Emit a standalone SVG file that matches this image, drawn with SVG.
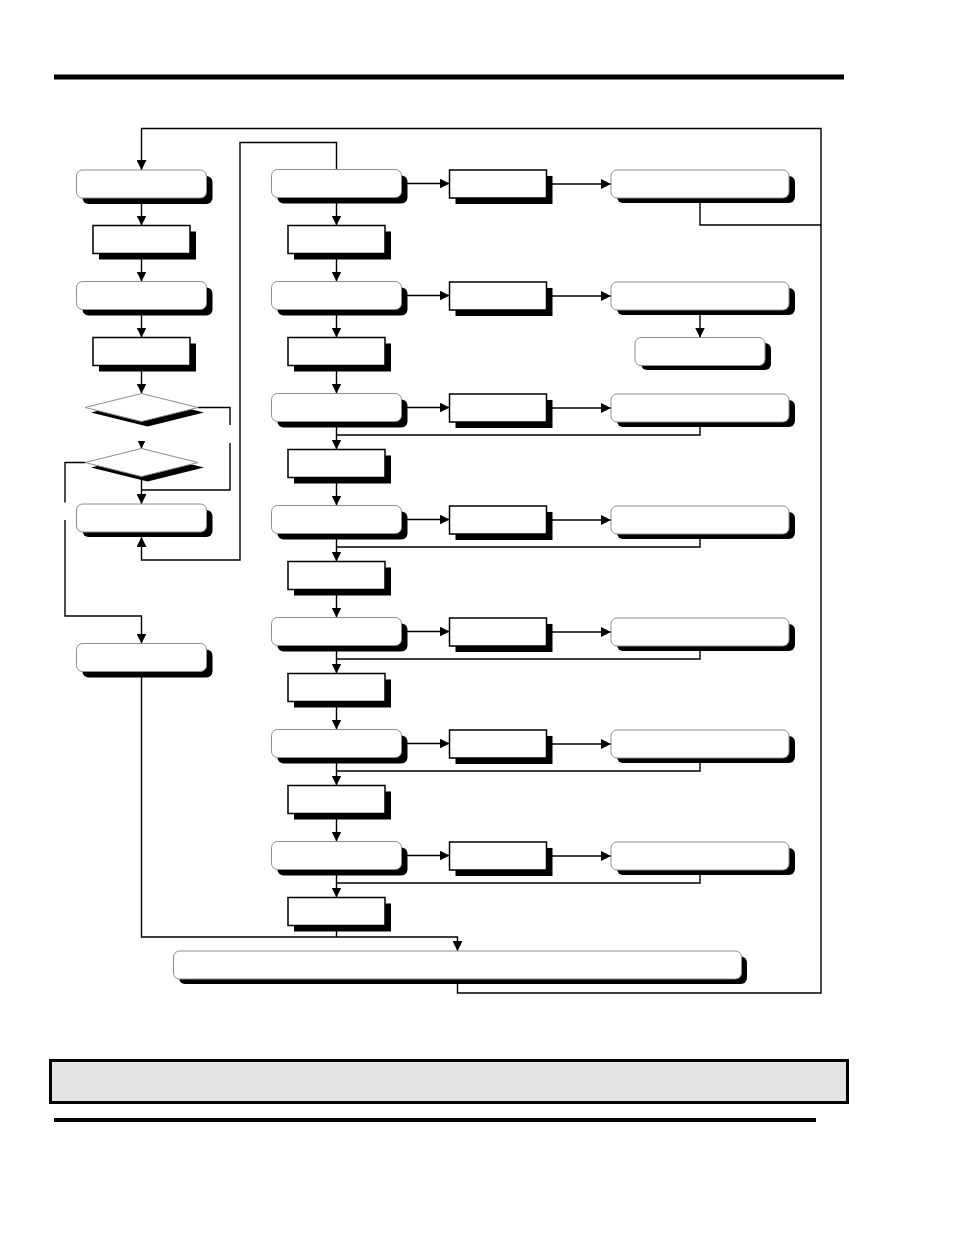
<svg xmlns="http://www.w3.org/2000/svg" width="954" height="1235" viewBox="0 0 954 1235">
<style>
.bg{fill:#fff}
.sh{fill:#000}
.rb{fill:#fff;stroke:#8c8c8c;stroke-width:1}
.rc{fill:#fff;stroke:#000;stroke-width:1.5}
.dm{fill:#fff;stroke:#8c8c8c;stroke-width:1}
.cn{fill:none;stroke:#000;stroke-width:1.4}
.bar{fill:#000}
.note{fill:#e4e4e4;stroke:#000;stroke-width:3}
</style>
<defs>
<marker id="ah" markerUnits="userSpaceOnUse" markerWidth="10" markerHeight="10" refX="10" refY="5" orient="auto">
<path d="M0,0 L10,5 L0,10 z" fill="#000"/>
</marker>
<marker id="ahs" markerUnits="userSpaceOnUse" markerWidth="8" markerHeight="8" refX="8" refY="4" orient="auto">
<path d="M0,0 L8,4 L0,8 z" fill="#000"/>
</marker>
</defs>
<rect class="bg" x="0" y="0" width="954" height="1235"/>
<rect id="top-rule" class="bar" x="54" y="74.5" width="790" height="5"/>

<g id="connectors">
<path class="cn" d="M457.5,984 V993 H821 V128.5 H141.5 V170" marker-end="url(#ah)"/>
<path class="cn" d="M700,198 V225 H821"/>
<path class="cn" d="M141.5,198 V225.5" marker-end="url(#ah)"/>
<path class="cn" d="M141.5,253.5 V281.5" marker-end="url(#ah)"/>
<path class="cn" d="M141.5,309.5 V337.5" marker-end="url(#ah)"/>
<path class="cn" d="M141.5,365.5 V393.5" marker-end="url(#ah)"/>
<path class="cn" d="M141.5,441 V448.5" marker-end="url(#ahs)"/>
<path class="cn" d="M198,407.5 H230 V425"/>
<path class="cn" d="M230,443 V490 H141.5"/>
<path class="cn" d="M141.5,476 V504" marker-end="url(#ah)"/>
<path class="cn" d="M85,462.5 H65 V502.5"/>
<path class="cn" d="M65,520 V616 H141.5 V643.5" marker-end="url(#ah)"/>
<path class="cn" d="M336.5,170 V142.5 H240 V560 H141.5 V537" marker-end="url(#ah)"/>
<path class="cn" d="M141.5,671.5 V937 H457.5 V951" marker-end="url(#ah)"/>
<path class="cn" d="M336.5,925.5 V937"/>
<!-- middle column verticals -->
<path class="cn" d="M336.5,197.5 V225.5" marker-end="url(#ah)"/>
<path class="cn" d="M336.5,253.5 V281.5" marker-end="url(#ah)"/>
<path class="cn" d="M336.5,309.5 V337.5" marker-end="url(#ah)"/>
<path class="cn" d="M336.5,365.5 V393.5" marker-end="url(#ah)"/>
<path class="cn" d="M336.5,421.5 V449.5" marker-end="url(#ah)"/>
<path class="cn" d="M336.5,477.5 V505.5" marker-end="url(#ah)"/>
<path class="cn" d="M336.5,533.5 V561.5" marker-end="url(#ah)"/>
<path class="cn" d="M336.5,589.5 V617.5" marker-end="url(#ah)"/>
<path class="cn" d="M336.5,645.5 V673.5" marker-end="url(#ah)"/>
<path class="cn" d="M336.5,701.5 V729.5" marker-end="url(#ah)"/>
<path class="cn" d="M336.5,757.5 V785.5" marker-end="url(#ah)"/>
<path class="cn" d="M336.5,813.5 V841.5" marker-end="url(#ah)"/>
<path class="cn" d="M336.5,869.5 V897.5" marker-end="url(#ah)"/>
<!-- horizontal arrows -->
<path class="cn" d="M401.5,183.5 H449.5" marker-end="url(#ah)"/>
<path class="cn" d="M401.5,295.5 H449.5" marker-end="url(#ah)"/>
<path class="cn" d="M401.5,407.5 H449.5" marker-end="url(#ah)"/>
<path class="cn" d="M401.5,519.5 H449.5" marker-end="url(#ah)"/>
<path class="cn" d="M401.5,631.5 H449.5" marker-end="url(#ah)"/>
<path class="cn" d="M401.5,743.5 H449.5" marker-end="url(#ah)"/>
<path class="cn" d="M401.5,855.5 H449.5" marker-end="url(#ah)"/>
<path class="cn" d="M546.5,184 H611" marker-end="url(#ah)"/>
<path class="cn" d="M546.5,296 H611" marker-end="url(#ah)"/>
<path class="cn" d="M546.5,408 H611" marker-end="url(#ah)"/>
<path class="cn" d="M546.5,520 H611" marker-end="url(#ah)"/>
<path class="cn" d="M546.5,632 H611" marker-end="url(#ah)"/>
<path class="cn" d="M546.5,744 H611" marker-end="url(#ah)"/>
<path class="cn" d="M546.5,856 H611" marker-end="url(#ah)"/>
<!-- returns -->
<path class="cn" d="M700,310 V337.5" marker-end="url(#ah)"/>
<path class="cn" d="M700,422 V435 H336.5"/>
<path class="cn" d="M700,534 V547 H336.5"/>
<path class="cn" d="M700,646 V659 H336.5"/>
<path class="cn" d="M700,758 V771 H336.5"/>
<path class="cn" d="M700,870 V883 H336.5"/>
</g>

<!-- left column -->
<g id="L1"><rect class="sh" x="82.5" y="176" width="130" height="28" rx="6"/><rect class="rb" x="76.5" y="170" width="130" height="28" rx="6"/></g>
<g id="L2"><rect class="sh" x="99" y="231.5" width="97" height="28"/><rect class="rc" x="93" y="225.5" width="97" height="28"/></g>
<g id="L3"><rect class="sh" x="82.5" y="287.5" width="130" height="28" rx="6"/><rect class="rb" x="76.5" y="281.5" width="130" height="28" rx="6"/></g>
<g id="L4"><rect class="sh" x="99" y="343.5" width="97" height="28"/><rect class="rc" x="93" y="337.5" width="97" height="28"/></g>
<g id="D1"><polygon class="sh" points="147.5,398.5 204,412.5 147.5,426.5 91,412.5"/><polygon class="dm" points="141.5,393.5 198,407.5 141.5,421.5 85,407.5"/></g>
<g id="D2"><polygon class="sh" points="147.5,453.5 204,467.5 147.5,481.5 91,467.5"/><polygon class="dm" points="141.5,448.5 198,462.5 141.5,476.5 85,462.5"/></g>
<g id="L5"><rect class="sh" x="82.5" y="510" width="130" height="27" rx="6"/><rect class="rb" x="76.5" y="504" width="130" height="28" rx="6"/></g>
<g id="L6"><rect class="sh" x="82.5" y="649.5" width="130" height="28" rx="6"/><rect class="rb" x="76.5" y="643.5" width="130" height="28" rx="6"/></g>

<!-- middle column -->
<g id="M1"><rect class="sh" x="277.5" y="175.5" width="130" height="28" rx="6"/><rect class="rb" x="271.5" y="169.5" width="130" height="28" rx="6"/></g>
<g id="M1r"><rect class="sh" x="294" y="231.5" width="97" height="28"/><rect class="rc" x="288" y="225.5" width="97" height="28"/></g>
<g id="M2"><rect class="sh" x="277.5" y="287.5" width="130" height="28" rx="6"/><rect class="rb" x="271.5" y="281.5" width="130" height="28" rx="6"/></g>
<g id="M2r"><rect class="sh" x="294" y="343.5" width="97" height="28"/><rect class="rc" x="288" y="337.5" width="97" height="28"/></g>
<g id="M3"><rect class="sh" x="277.5" y="399.5" width="130" height="28" rx="6"/><rect class="rb" x="271.5" y="393.5" width="130" height="28" rx="6"/></g>
<g id="M3r"><rect class="sh" x="294" y="455.5" width="97" height="28"/><rect class="rc" x="288" y="449.5" width="97" height="28"/></g>
<g id="M4"><rect class="sh" x="277.5" y="511.5" width="130" height="28" rx="6"/><rect class="rb" x="271.5" y="505.5" width="130" height="28" rx="6"/></g>
<g id="M4r"><rect class="sh" x="294" y="567.5" width="97" height="28"/><rect class="rc" x="288" y="561.5" width="97" height="28"/></g>
<g id="M5"><rect class="sh" x="277.5" y="623.5" width="130" height="28" rx="6"/><rect class="rb" x="271.5" y="617.5" width="130" height="28" rx="6"/></g>
<g id="M5r"><rect class="sh" x="294" y="679.5" width="97" height="28"/><rect class="rc" x="288" y="673.5" width="97" height="28"/></g>
<g id="M6"><rect class="sh" x="277.5" y="735.5" width="130" height="28" rx="6"/><rect class="rb" x="271.5" y="729.5" width="130" height="28" rx="6"/></g>
<g id="M6r"><rect class="sh" x="294" y="791.5" width="97" height="28"/><rect class="rc" x="288" y="785.5" width="97" height="28"/></g>
<g id="M7"><rect class="sh" x="277.5" y="847.5" width="130" height="28" rx="6"/><rect class="rb" x="271.5" y="841.5" width="130" height="28" rx="6"/></g>
<g id="M7r"><rect class="sh" x="294" y="903.5" width="97" height="28"/><rect class="rc" x="288" y="897.5" width="97" height="28"/></g>

<!-- third column -->
<g id="T1"><rect class="sh" x="455.5" y="176" width="97" height="28"/><rect class="rc" x="449.5" y="170" width="97" height="28"/></g>
<g id="T2"><rect class="sh" x="455.5" y="288" width="97" height="28"/><rect class="rc" x="449.5" y="282" width="97" height="28"/></g>
<g id="T3"><rect class="sh" x="455.5" y="400" width="97" height="28"/><rect class="rc" x="449.5" y="394" width="97" height="28"/></g>
<g id="T4"><rect class="sh" x="455.5" y="512" width="97" height="28"/><rect class="rc" x="449.5" y="506" width="97" height="28"/></g>
<g id="T5"><rect class="sh" x="455.5" y="624" width="97" height="28"/><rect class="rc" x="449.5" y="618" width="97" height="28"/></g>
<g id="T6"><rect class="sh" x="455.5" y="736" width="97" height="28"/><rect class="rc" x="449.5" y="730" width="97" height="28"/></g>
<g id="T7"><rect class="sh" x="455.5" y="848" width="97" height="28"/><rect class="rc" x="449.5" y="842" width="97" height="28"/></g>

<!-- fourth column -->
<g id="F1"><rect class="sh" x="617" y="176" width="178" height="27" rx="6"/><rect class="rb" x="611" y="170" width="178" height="28" rx="6"/></g>
<g id="F2"><rect class="sh" x="617" y="288" width="178" height="27" rx="6"/><rect class="rb" x="611" y="282" width="178" height="28" rx="6"/></g>
<g id="F2b"><rect class="sh" x="641" y="343" width="130" height="27" rx="6"/><rect class="rb" x="635" y="337.5" width="130" height="28" rx="6"/></g>
<g id="F3"><rect class="sh" x="617" y="400" width="178" height="27" rx="6"/><rect class="rb" x="611" y="394" width="178" height="28" rx="6"/></g>
<g id="F4"><rect class="sh" x="617" y="512" width="178" height="27" rx="6"/><rect class="rb" x="611" y="506" width="178" height="28" rx="6"/></g>
<g id="F5"><rect class="sh" x="617" y="624" width="178" height="27" rx="6"/><rect class="rb" x="611" y="618" width="178" height="28" rx="6"/></g>
<g id="F6"><rect class="sh" x="617" y="736" width="178" height="27" rx="6"/><rect class="rb" x="611" y="730" width="178" height="28" rx="6"/></g>
<g id="F7"><rect class="sh" x="617" y="848" width="178" height="27" rx="6"/><rect class="rb" x="611" y="842" width="178" height="28" rx="6"/></g>

<!-- bottom wide node -->
<g id="B"><rect class="sh" x="179" y="956.5" width="568" height="27.5" rx="6"/><rect class="rb" x="173.5" y="951" width="568" height="28" rx="6"/></g>

<rect id="note" class="note" x="50.5" y="1060.5" width="797" height="42"/>
<rect id="bottom-rule" class="bar" x="54" y="1118" width="762" height="4"/>
</svg>
